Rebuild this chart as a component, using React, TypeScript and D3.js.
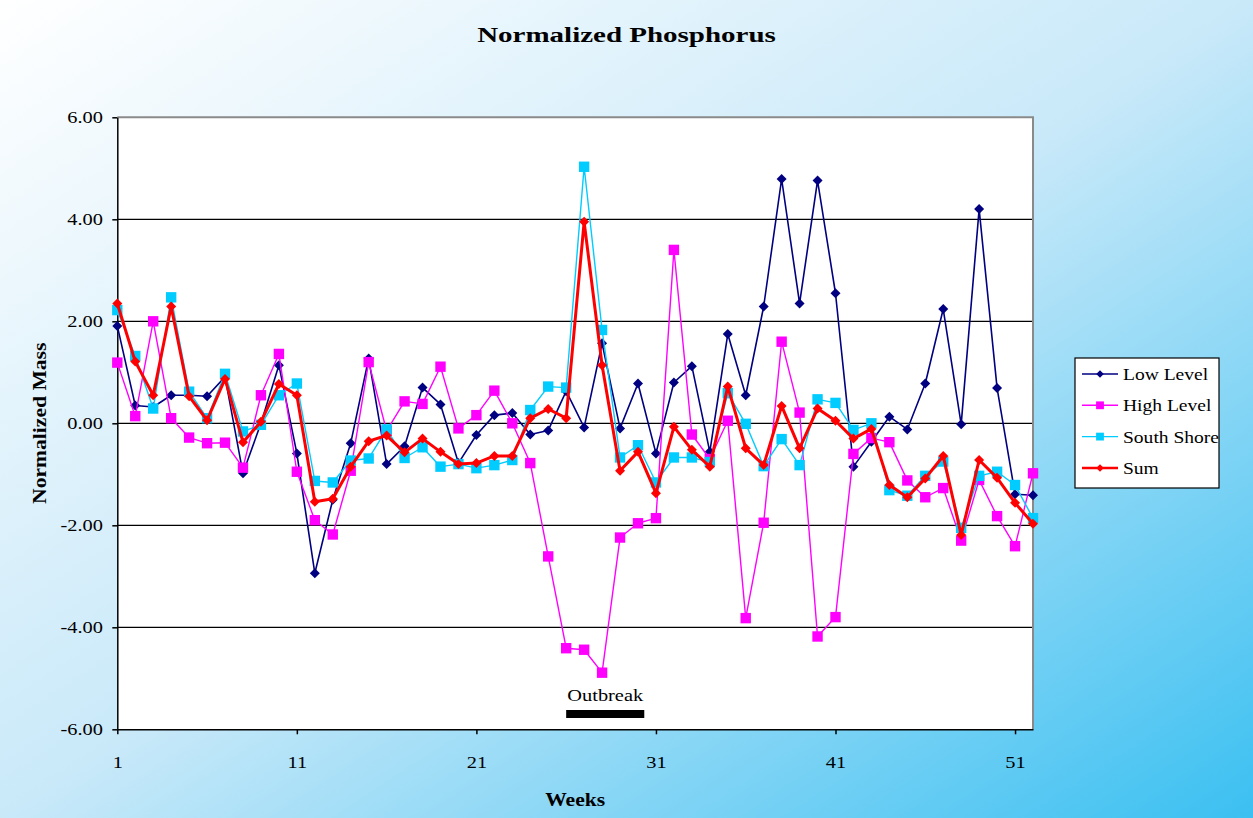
import React, { useEffect, useRef } from "react";
import * as d3 from "d3";

// weeks on the x axis
const weeks = [
  1, 2, 3, 4, 5, 6, 7, 8, 9, 10, 11, 12, 13, 14, 15, 16, 17, 18, 19, 20, 21, 22, 23, 24, 25, 26,
  27, 28, 29, 30, 31, 32, 33, 34, 35, 36, 37, 38, 39, 40, 41, 42, 43, 44, 45, 46, 47, 48, 49, 50, 51, 52,
];

const lowLevel = [
  1.91, 0.35, 0.32, 0.55, 0.55, 0.53, 0.91, -0.98, 0.0, 1.14, -0.59, -2.94, -1.5, -0.39, 1.27, -0.8,
  -0.45, 0.7, 0.37, -0.78, -0.23, 0.16, 0.2, -0.22, -0.14, 0.63, -0.08, 1.57, -0.1, 0.78, -0.59, 0.8,
  1.12, -0.56, 1.75, 0.55, 2.29, 4.79, 2.35, 4.76, 2.55, -0.85, -0.36, 0.13, -0.12, 0.78, 2.24, -0.02,
  4.2, 0.69, -1.39, -1.41,
];

const highLevel = [
  1.19, 0.14, 2.0, 0.1, -0.28, -0.39, -0.38, -0.87, 0.55, 1.36, -0.95, -1.9, -2.18, -0.93, 1.2, -0.15,
  0.43, 0.38, 1.11, -0.1, 0.16, 0.64, 0.0, -0.78, -2.61, -4.41, -4.44, -4.89, -2.24, -1.96, -1.86, 3.4,
  -0.22, -0.7, 0.05, -3.82, -1.95, 1.6, 0.21, -4.18, -3.8, -0.6, -0.29, -0.37, -1.12, -1.45, -1.27, -2.3,
  -1.11, -1.82, -2.41, -0.98,
];

const southShore = [
  2.22, 1.32, 0.29, 2.47, 0.62, 0.1, 0.97, -0.16, -0.03, 0.55, 0.78, -1.13, -1.16, -0.73, -0.69, -0.12,
  -0.68, -0.47, -0.85, -0.8, -0.88, -0.82, -0.72, 0.26, 0.72, 0.7, 5.03, 1.83, -0.67, -0.43, -1.16, -0.67,
  -0.67, -0.76, 0.59, -0.01, -0.84, -0.31, -0.82, 0.47, 0.4, -0.13, 0.0, -1.31, -1.42, -1.03, -0.75, -2.05,
  -1.03, -0.95, -1.21, -1.86,
];

const sum = [
  2.35, 1.21, 0.55, 2.29, 0.53, 0.06, 0.87, -0.37, 0.03, 0.77, 0.55, -1.54, -1.48, -0.85, -0.35, -0.24,
  -0.57, -0.3, -0.56, -0.8, -0.78, -0.64, -0.64, 0.1, 0.28, 0.1, 3.95, 1.14, -0.93, -0.56, -1.37, -0.07,
  -0.52, -0.85, 0.72, -0.49, -0.82, 0.34, -0.49, 0.29, 0.05, -0.3, -0.11, -1.21, -1.45, -1.08, -0.64, -2.19,
  -0.72, -1.07, -1.56, -1.97,
];

const yTicks = [-6, -4, -2, 0, 2, 4, 6];
const xTicks = [1, 11, 21, 31, 41, 51];
const outbreak = [26, 30.35];

const series = [
  { name: "Low Level", values: lowLevel, color: "#000080", width: 1.6, shape: "diamond", size: 5 },
  { name: "High Level", values: highLevel, color: "#ff00ff", width: 1.4, shape: "square", size: 5.2 },
  { name: "South Shore", values: southShore, color: "#00ccff", width: 1.4, shape: "square", size: 5.2 },
  { name: "Sum", values: sum, color: "#ff0000", width: 3, shape: "diamond", size: 5 },
];

const W = 1253, H = 818;
const plot = { left: 117.3, right: 1033, top: 117.3, bottom: 729.3 };
const FONT = "'Liberation Serif', 'Times New Roman', serif";

function marker(sel, shape, r) {
  if (shape === "diamond") {
    // square rotated 45deg, r = half diagonal
    sel.attr("d", d3.symbol().type(d3.symbolSquare).size(2 * r * r)());
    return "rotate(45)";
  }
  sel.attr("d", d3.symbol().type(d3.symbolSquare).size(4 * r * r)());
  return "";
}

export default function App() {
  const ref = useRef<SVGSVGElement>(null);

  useEffect(() => {
    const svg = d3.select(ref.current);
    svg.selectAll("*").remove();

    const defs = svg.append("defs");
    const grad = defs.append("linearGradient").attr("id", "bg").attr("x1", 0).attr("y1", 0).attr("x2", 1).attr("y2", 1);
    grad.append("stop").attr("offset", "0%").attr("stop-color", "#ffffff");
    grad.append("stop").attr("offset", "50%").attr("stop-color", "#c9e9f9");
    grad.append("stop").attr("offset", "100%").attr("stop-color", "#3bc0f1");
    svg.append("rect").attr("width", W).attr("height", H).attr("fill", "url(#bg)");

    const x = d3.scaleLinear().domain([1, 52]).range([plot.left, plot.right]);
    const y = d3.scaleLinear().domain([-6, 6]).range([plot.bottom, plot.top]);

    // plot area
    svg.append("rect")
      .attr("x", plot.left).attr("y", plot.top)
      .attr("width", plot.right - plot.left).attr("height", plot.bottom - plot.top)
      .attr("fill", "#ffffff");

    svg.append("g").selectAll("line").data(yTicks.filter(v => v > -6 && v < 6)).join("line")
      .attr("x1", plot.left).attr("x2", plot.right)
      .attr("y1", d => y(d)).attr("y2", d => y(d))
      .attr("stroke", "#000").attr("stroke-width", 1.2);

    // grey frame top / right
    svg.append("path")
      .attr("d", `M${plot.left},${plot.top}H${plot.right}V${plot.bottom}`)
      .attr("fill", "none").attr("stroke", "#8a8a8a").attr("stroke-width", 2);

    // axes
    const yAxis = svg.append("g").attr("transform", `translate(${plot.left},0)`)
      .call(d3.axisLeft(y).tickValues(yTicks).tickFormat(d => (+d).toFixed(2)).tickSize(5).tickSizeOuter(0).tickPadding(7));
    const xAxis = svg.append("g").attr("transform", `translate(0,${plot.bottom})`)
      .call(d3.axisBottom(x).tickValues(xTicks).tickFormat(d => String(d)).tickSize(5).tickSizeOuter(0).tickPadding(22));
    [yAxis, xAxis].forEach(a => {
      a.select(".domain").attr("stroke", "#000").attr("stroke-width", 1.5);
      a.selectAll(".tick line").attr("stroke", "#000").attr("stroke-width", 1.5);
      a.selectAll("text").attr("fill", "#000").style("font-family", FONT).style("font-size", "17px")
        .attr("transform", "scale(1.2,1)");
    });

    // outbreak marker
    svg.append("rect")
      .attr("x", x(outbreak[0])).attr("width", x(outbreak[1]) - x(outbreak[0]))
      .attr("y", 710).attr("height", 8).attr("fill", "#000");
    svg.append("text")
      .attr("transform", `translate(${(x(outbreak[0]) + x(outbreak[1])) / 2},701) scale(1.2,1)`)
      .attr("text-anchor", "middle").style("font-family", FONT).style("font-size", "17px")
      .text("Outbreak");

    // series
    const line = d3.line<number>().x((d, i) => x(weeks[i])).y(d => y(d));
    series.forEach(s => {
      const g = svg.append("g");
      g.append("path").attr("d", line(s.values)).attr("fill", "none")
        .attr("stroke", s.color).attr("stroke-width", s.width).attr("stroke-linejoin", "round");
      g.selectAll("path.m").data(s.values).join("path").attr("class", "m")
        .each(function (d, i) {
          const el = d3.select(this);
          const rot = marker(el, s.shape, s.size);
          el.attr("transform", `translate(${x(weeks[i])},${y(d)}) ${rot}`);
        })
        .attr("fill", s.color);
    });

    // titles
    svg.append("text")
      .attr("transform", `translate(${W / 2},42) scale(1.45,1)`)
      .attr("text-anchor", "middle").style("font-family", FONT).style("font-size", "20px").style("font-weight", "bold")
      .text("Normalized Phosphorus");
    svg.append("text")
      .attr("transform", `translate(${(plot.left + plot.right) / 2},806) scale(1.2,1)`)
      .attr("text-anchor", "middle").style("font-family", FONT).style("font-size", "18px").style("font-weight", "bold")
      .text("Weeks");
    svg.append("text")
      .attr("transform", `translate(46,${(plot.top + plot.bottom) / 2}) rotate(-90) scale(1.2,1)`)
      .attr("text-anchor", "middle").style("font-family", FONT).style("font-size", "18px").style("font-weight", "bold")
      .text("Normalized Mass");

    // legend
    const leg = svg.append("g").attr("transform", "translate(1075,358)");
    leg.append("rect").attr("width", 144).attr("height", 130).attr("fill", "#fff").attr("stroke", "#000").attr("stroke-width", 1.2);
    const items = leg.selectAll("g").data(series).join("g")
      .attr("transform", (d, i) => `translate(0,${16 + i * 31.3})`);
    items.append("line").attr("x1", 7).attr("x2", 43).attr("stroke", d => d.color).attr("stroke-width", d => Math.min(d.width, 2.5));
    items.append("path").each(function (d) {
      const el = d3.select(this);
      const rot = marker(el, d.shape, d.size * 0.75);
      el.attr("transform", `translate(25,0) ${rot}`);
    }).attr("fill", d => d.color);
    items.append("text").attr("transform", "translate(48,6) scale(1.15,1)")
      .style("font-family", FONT).style("font-size", "17px").text(d => d.name);
  }, []);

  return (
    <svg ref={ref} width={W} height={H} style={{ position: "absolute", left: 0, top: 0, display: "block" }} />
  );
}
